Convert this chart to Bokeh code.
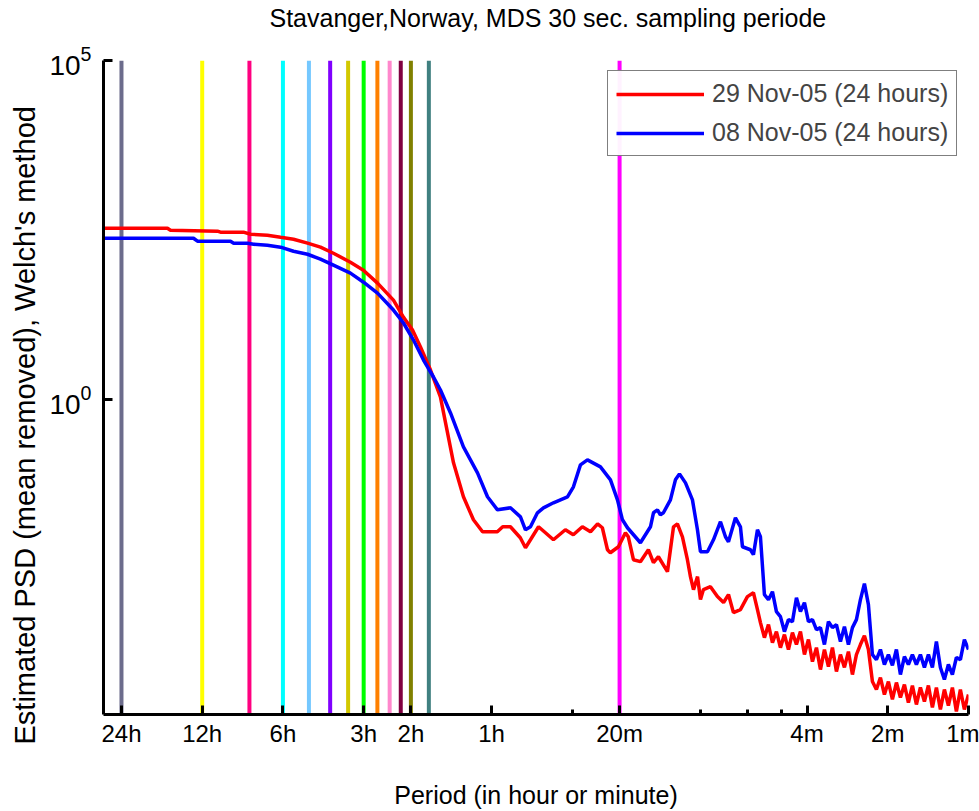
import numpy as np
from bokeh.plotting import figure
from bokeh.models import Range1d, FixedTicker, Span, Legend, LegendItem, Title
from bokeh.embed import file_html
from bokeh.resources import INLINE

# x: frequency in cycles per day (1 -> 24 h period, 1440 -> 1 min period)
freq_red = [0.857, 1.484, 1.523, 2.28, 2.34, 2.85, 3.03, 3.50, 3.92, 4.38, 4.94, 5.52,
            6.17, 7.14, 7.98, 9.01, 10.33, 11.25, 12.17, 13.03, 14.20, 15.46, 17.30,
            18.84, 20.53, 22.2, 25.2, 26.4, 28.2, 30.7, 32.1, 33.5, 35.9, 38.1, 40.8,
            45.2, 48.4, 52.3, 56.1, 59.6, 62.1, 64.9, 66.5, 71.3, 75.7, 77.6, 81.1,
            86.1, 92.2, 96.3, 100.5, 108.6, 114.4, 118.3, 123.5, 128.9, 132.3, 135.8,
            140.6, 144.2, 147.9, 157.1, 166.8, 175.8, 183.4, 191.4, 203.2, 215.8,
            227.2, 235.2,
            241.3, 249.7, 258.5, 267.5, 276.8, 286.5, 296.5, 306.9, 317.6, 328.7,
            340.2, 352.1, 364.4, 377.1, 390.3, 403.9, 418.0, 432.6, 447.7, 463.4,
            479.6, 496.3, 513.6, 531.6, 550.1, 569.4, 589.2, 609.8, 631.1, 653.2,
            676.0, 699.6, 724.0, 749.3, 775.5, 802.6, 830.6, 859.6, 889.6, 920.7,
            952.9, 986.2, 1020.6, 1056.2, 1093.1, 1131.3, 1170.8, 1211.7, 1254.0,
            1297.8, 1343.1, 1390.0, 1440.0]
psd_red = [338, 338, 316, 306, 296, 296, 276, 267, 249, 233, 204, 178,
           145, 107, 81.6, 52.6, 29.6, 16.6, 10.7, 6.02, 2.76, 1.11, 0.1186,
           0.0375, 0.01718, 0.01145, 0.01145, 0.01356, 0.01356, 0.00935, 0.00667,
           0.00873, 0.01356, 0.01107, 0.00873,
           0.01225, 0.01035, 0.01356, 0.01145, 0.0150, 0.01312, 0.00622, 0.00562,
           0.00689, 0.01107, 0.00966, 0.00444,
           0.00415, 0.00622, 0.00401, 0.00491, 0.00296, 0.01356, 0.0150, 0.00966,
           0.00444, 0.00250, 0.00161,
           0.00250, 0.00115, 0.00161, 0.00178, 0.00127, 0.00104, 0.00136, 0.000738,
           0.000817, 0.00127, 0.00145, 0.000817,
           5.26e-4, 3.16e-4, 4.91e-4, 2.67e-4, 3.88e-4, 2.25e-4, 3.50e-4, 2.11e-4,
           3.75e-4, 2.50e-4, 3.88e-4, 1.78e-4, 2.96e-4, 1.40e-4, 2.25e-4, 1.07e-4,
           2.11e-4, 1.18e-4, 2.25e-4, 1.00e-4, 1.78e-4, 1.15e-4, 1.97e-4, 9.03e-5,
           1.78e-4, 2.50e-4, 3.38e-4, 2.11e-4, 7.13e-5, 5.44e-5, 8.16e-5, 4.59e-5,
           7.13e-5, 3.88e-5, 6.89e-5, 4.15e-5, 6.44e-5, 3.50e-5, 6.22e-5, 3.27e-5,
           5.82e-5, 3.62e-5, 6.22e-5, 2.96e-5, 5.82e-5, 2.76e-5, 5.44e-5, 3.16e-5,
           5.82e-5, 2.58e-5, 5.44e-5, 2.76e-5, 4.59e-5]

freq_blue = [0.857, 1.856, 1.920, 2.55, 2.62, 2.95, 3.11, 3.50, 3.92, 4.38, 4.94, 5.52,
             6.17, 7.14, 7.99, 9.01, 10.33, 11.26, 12.27, 13.37, 14.57, 15.47, 16.86,
             18.84, 21.26, 23.16, 25.23, 28.21, 30.74, 32.09, 33.50, 35.57, 37.45,
             40.81, 46.03, 48.45, 51.45, 54.63, 61.09, 66.58, 70.70, 73.80, 77.04,
             86.11, 93.86, 96.31, 99.66, 102.2, 104.9, 111.4, 116.3, 120.4, 126.8,
             134.6, 140.5, 144.2, 153.1, 161.2, 171.2, 178.7, 183.4, 194.7, 203.2,
             206.8, 221.4, 227.2, 235.2,
             241.3, 249.7, 258.5, 267.5, 276.8, 286.5, 296.5, 306.9, 317.6, 328.7,
             340.2, 352.1, 364.4, 377.1, 390.3, 403.9, 418.0, 432.6, 447.7, 463.4,
             479.6, 496.3, 513.6, 531.6, 550.1, 569.4, 589.2, 609.8, 631.1, 653.2,
             676.0, 699.6, 724.0, 749.3, 775.5, 802.6, 830.6, 859.6, 889.6, 920.7,
             952.9, 986.2, 1020.6, 1056.2, 1093.1, 1131.3, 1170.8, 1211.7, 1254.0,
             1297.8, 1343.1, 1390.0, 1440.0]
psd_blue = [241, 241, 218, 218, 204, 204, 197, 190, 178, 155, 140, 119,
            96.7, 73.7, 54.3, 37.5, 21.1, 13.6, 7.63, 3.87, 2.18, 1.40, 0.644,
            0.204, 0.0844, 0.0375, 0.0241, 0.0258, 0.0190, 0.01225, 0.01356, 0.0218,
            0.0258, 0.0306, 0.0375, 0.0526, 0.1107, 0.131, 0.1035, 0.0667, 0.0338,
            0.01718, 0.01312, 0.00789, 0.01356, 0.0218, 0.0241, 0.0204, 0.0218,
            0.0338, 0.0667, 0.0816, 0.0601, 0.0338, 0.01225, 0.00582, 0.00582,
            0.00873, 0.0161, 0.00966, 0.00816, 0.0184, 0.01356, 0.00689, 0.00622,
            0.00526, 0.01225,
            9.67e-3, 1.357e-3, 1.145e-3, 1.501e-3, 7.63e-4, 6.44e-4, 3.88e-4, 5.82e-4,
            5.44e-4, 1.225e-3, 7.63e-4, 1.034e-3, 5.44e-4, 5.82e-4, 4.15e-4, 4.44e-4,
            2.50e-4, 5.44e-4, 4.44e-4, 4.91e-4, 2.76e-4, 4.59e-4, 2.50e-4, 4.44e-4,
            5.82e-4, 1.145e-3, 1.968e-3, 9.67e-4, 1.78e-4, 1.50e-4, 2.11e-4, 1.27e-4,
            1.78e-4, 1.23e-4, 2.11e-4, 9.03e-5, 1.66e-4, 1.27e-4, 1.78e-4, 1.27e-4,
            1.78e-4, 1.15e-4, 1.78e-4, 1.15e-4, 2.76e-4, 1.15e-4, 7.63e-5, 1.27e-4,
            9.03e-5, 1.61e-4, 1.50e-4, 2.96e-4, 2.11e-4]

# harmonics of the daily cycle (cycles per day) marked by vertical lines
harmonic_cpd = [1, 2, 3, 4, 5, 6, 7, 8, 9, 10, 11, 12, 14, 72]
harmonic_colors = ["#6c6c8c", "#ffff00", "#ff0080", "#00ffff", "#75c8ff", "#8000ff",
                   "#d2c800", "#00ff00", "#ff8000", "#ff88cc", "#800040", "#808000",
                   "#408080", "#ff00ff"]

xtick_cpd = [1, 2, 4, 8, 12, 24, 72, 360, 720, 1440]
xtick_labels = ["24h", "12h", "6h", "3h", "2h", "1h", "20m", "4m", "2m", "1m"]
xminor_cpd = [48, 144, 216, 288]
ytick_vals = [1, 100000]

FONT = "Liberation Sans"

p = figure(width=979, height=811, x_axis_type="log", y_axis_type="log",
           x_range=Range1d(0.857, 1440), y_range=Range1d(2.33e-5, 1e5),
           output_backend="svg", toolbar_location=None,
           min_border_left=103, min_border_right=11, min_border_top=60,
           min_border_bottom=96)
p.outline_line_color = None
p.xgrid.visible = False
p.ygrid.visible = False
p.background_fill_color = "white"
p.border_fill_color = "white"

# spacer between frame and title, then the title itself (stacked outward)
p.add_layout(Title(text=" ", text_font_size="1px", standoff=24,
                   vertical_align="top"), "above")
p.add_layout(Title(text="Stavanger,Norway, MDS 30 sec. sampling periode",
                   text_font=FONT, text_font_size="25px", text_font_style="normal",
                   text_color="black", align="left", offset=166,
                   vertical_align="top", standoff=0), "above")

ylabel = Title(text="Estimated PSD (mean removed), Welch's method", align="left",
               offset=-30, text_font=FONT, text_font_size="29px",
               text_font_style="normal", text_color="black", standoff=12)
p.add_layout(ylabel, "left")

for cpd, col in zip(harmonic_cpd, harmonic_colors):
    p.add_layout(Span(location=cpd, dimension="height", line_color=col,
                      line_width=4, level="underlay"))

r_red = p.line(freq_red, psd_red, line_color="#ff0000", line_width=3.5)
r_blue = p.line(freq_blue, psd_blue, line_color="#0000ff", line_width=3.5)

legend = Legend(items=[LegendItem(label="29 Nov-05 (24 hours)", renderers=[r_red]),
                       LegendItem(label="08 Nov-05 (24 hours)", renderers=[r_blue])],
                location=(504, 558), border_line_color="black", border_line_width=1,
                label_text_font=FONT, label_text_font_size="25px",
                glyph_width=88, glyph_height=20, label_standoff=8,
                padding=8, spacing=10, margin=0)
p.add_layout(legend)

xa = p.xaxis[0]
xa.ticker = FixedTicker(ticks=xtick_cpd, minor_ticks=xminor_cpd)
xa.major_label_overrides = {t: l for t, l in zip(xtick_cpd, xtick_labels)}
xa.axis_label = "Period (in hour or minute)"
ya = p.yaxis[0]
ya.ticker = FixedTicker(ticks=ytick_vals, minor_ticks=[])

for ax in (xa, ya):
    ax.axis_line_width = 3
    ax.axis_line_color = "black"
    ax.major_tick_in = 9
    ax.major_tick_out = 0
    ax.minor_tick_in = 5
    ax.minor_tick_out = 0
    ax.major_tick_line_width = 3
    ax.minor_tick_line_width = 3
    ax.major_label_text_font = FONT
    ax.major_label_text_color = "black"
    ax.axis_label_text_font = FONT
    ax.axis_label_text_font_style = "normal"
    ax.axis_label_text_color = "black"

xa.major_label_text_font_size = "24px"
ya.major_label_text_font_size = "28px"
xa.axis_label_text_font_size = "25px"
xa.major_label_standoff = 5
xa.axis_label_standoff = 31
ya.major_label_standoff = 12

open("out.html", "w").write(file_html(p, INLINE))
